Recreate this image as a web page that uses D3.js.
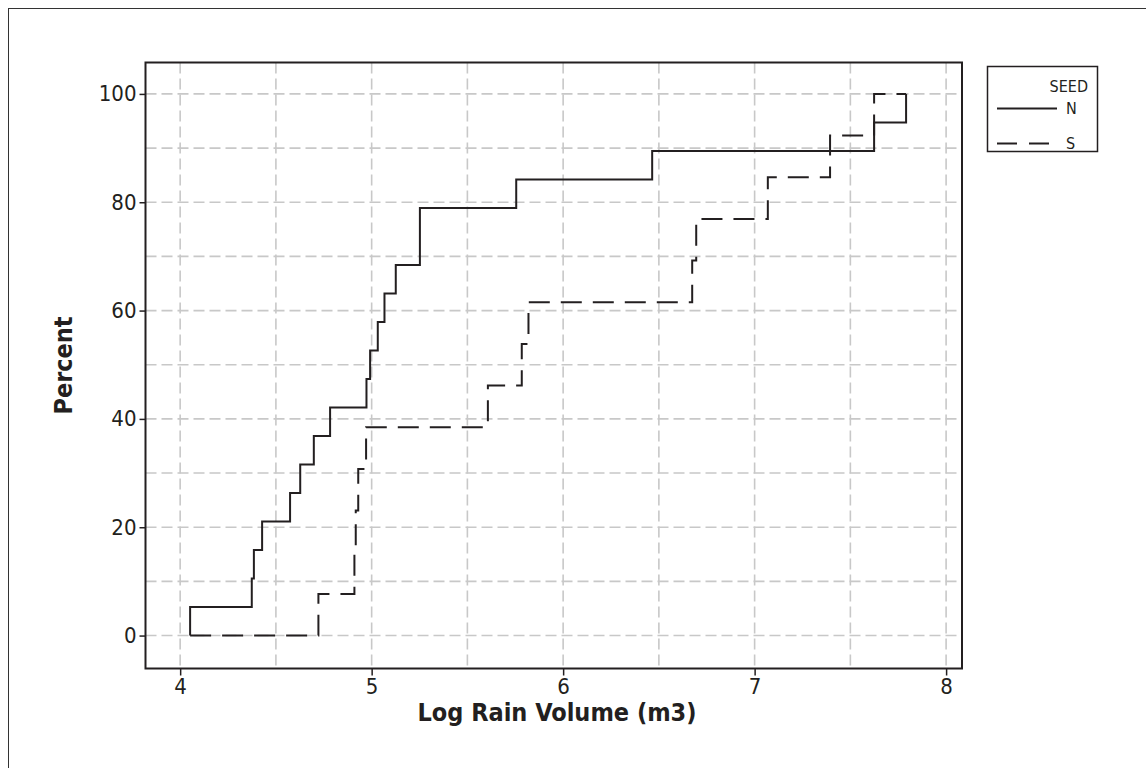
<!DOCTYPE html>
<html>
<head>
<meta charset="utf-8">
<script src="https://cdn.jsdelivr.net/npm/d3@7"></script>
<style>
  html, body { margin: 0; padding: 0; background: #fff; }
  svg { display: block; }
</style>
</head>
<body>
<svg id="chart" width="1146" height="768"></svg>
<script>
// ---- data (log rain volume, m3) ----
const seriesNames = ["N", "S"];
const valuesN = [4.052, 4.374, 4.385, 4.428, 4.574, 4.627, 4.698, 4.783, 4.973, 4.992,
                 5.032, 5.067, 5.126, 5.252, 5.252, 5.755, 6.465, 7.624, 7.791];
const valuesS = [4.722, 4.910, 4.917, 4.930, 4.971, 5.607, 5.784, 5.819, 6.674, 6.695,
                 7.069, 7.394, 7.624];
const xTicks = [4, 5, 6, 7, 8];
const xMinorGrid = [4.5, 5.5, 6.5, 7.5];
const yTicks = [0, 20, 40, 60, 80, 100];
const yGrid = [0, 10, 20, 30, 40, 50, 60, 70, 80, 90, 100];
const legendTitle = "SEED";
const xTitle = "Log Rain Volume (m3)";
const yTitle = "Percent";

const svg = d3.select("#chart");
const font = "'DejaVu Sans Condensed', 'DejaVu Sans', sans-serif";
const ink = "#231f20";

// outer frame
svg.append("rect").attr("x", 8.5).attr("y", 8.5).attr("width", 1200).attr("height", 800)
  .attr("fill", "none").attr("stroke", "#333").attr("stroke-width", 1);

const plot = { left: 145.5, right: 962, top: 62.5, bottom: 668.5 };
const x = d3.scaleLinear().domain([3.819, 8.083]).range([plot.left, plot.right]);
const y = d3.scaleLinear().domain([-6.08, 105.8]).range([plot.bottom, plot.top]);

// grid
const grid = svg.append("g").attr("stroke", "#c8c8c8").attr("stroke-width", 1.6)
  .attr("stroke-dasharray", "11,5").attr("fill", "none");
xTicks.concat(xMinorGrid).forEach(v => {
  grid.append("line").attr("x1", x(v)).attr("x2", x(v)).attr("y1", plot.top).attr("y2", plot.bottom);
});
yGrid.forEach(v => {
  grid.append("line").attr("x1", plot.left).attr("x2", plot.right).attr("y1", y(v)).attr("y2", y(v));
});

// ECDF step series
function ecdf(vals, xmin, xmax) {
  const n = vals.length;
  const pts = [[xmin, 0]];
  vals.forEach((v, i) => pts.push([v, (i + 1) / n * 100]));
  if (pts[pts.length - 1][0] < xmax) pts.push([xmax, 100]);
  return pts;
}
const allVals = valuesN.concat(valuesS);
const xmin = d3.min(allVals), xmax = d3.max(allVals);
const line = d3.line().x(d => x(d[0])).y(d => y(d[1])).curve(d3.curveStepAfter);

svg.append("path").datum(ecdf(valuesS, xmin, xmax)).attr("d", line)
  .attr("fill", "none").attr("stroke", ink).attr("stroke-width", 2)
  .attr("stroke-dasharray", "21,11");
svg.append("path").datum(ecdf(valuesN, xmin, xmax)).attr("d", line)
  .attr("fill", "none").attr("stroke", ink).attr("stroke-width", 2);

// plot frame
svg.append("rect").attr("x", plot.left).attr("y", plot.top)
  .attr("width", plot.right - plot.left).attr("height", plot.bottom - plot.top)
  .attr("fill", "none").attr("stroke", ink).attr("stroke-width", 2);

// axes
const xAxis = svg.append("g").attr("transform", `translate(0,${plot.bottom})`)
  .call(d3.axisBottom(x).tickValues(xTicks).tickSize(7).tickPadding(3).tickFormat(d3.format("d")));
const yAxis = svg.append("g").attr("transform", `translate(${plot.left},0)`)
  .call(d3.axisLeft(y).tickValues(yTicks).tickSize(6).tickPadding(3).tickFormat(d3.format("d")));
[xAxis, yAxis].forEach(a => {
  a.select(".domain").remove();
  a.selectAll(".tick line").attr("stroke", ink).attr("stroke-width", 1.5);
  a.selectAll(".tick text").attr("fill", ink).style("font-family", font).style("font-size", "22px");
});

// axis titles
svg.append("text").attr("x", 557).attr("y", 721)
  .attr("text-anchor", "middle").attr("fill", ink)
  .style("font-family", font).style("font-size", "25px").style("font-weight", "bold")
  .text(xTitle);
svg.append("text").attr("transform", `translate(72,${(plot.top + plot.bottom) / 2}) rotate(-90)`)
  .attr("text-anchor", "middle").attr("fill", ink)
  .style("font-family", font).style("font-size", "25px").style("font-weight", "bold")
  .text(yTitle);

// legend
const lg = svg.append("g");
lg.append("rect").attr("x", 987.5).attr("y", 66.5).attr("width", 110).attr("height", 85)
  .attr("fill", "#fff").attr("stroke", ink).attr("stroke-width", 1.5);
lg.append("text").attr("x", 1088).attr("y", 92).attr("text-anchor", "end").attr("fill", ink)
  .style("font-family", font).style("font-size", "16px").text(legendTitle);
const legY = [108.5, 143.5];
seriesNames.forEach((s, i) => {
  lg.append("line").attr("x1", 997).attr("x2", 1057).attr("y1", legY[i]).attr("y2", legY[i])
    .attr("stroke", ink).attr("stroke-width", 2)
    .attr("stroke-dasharray", i === 0 ? null : "20,12");
  lg.append("text").attr("x", 1066).attr("y", legY[i] + 5.5).attr("fill", ink)
    .style("font-family", font).style("font-size", "16px").text(s);
});
</script>
</body>
</html>
